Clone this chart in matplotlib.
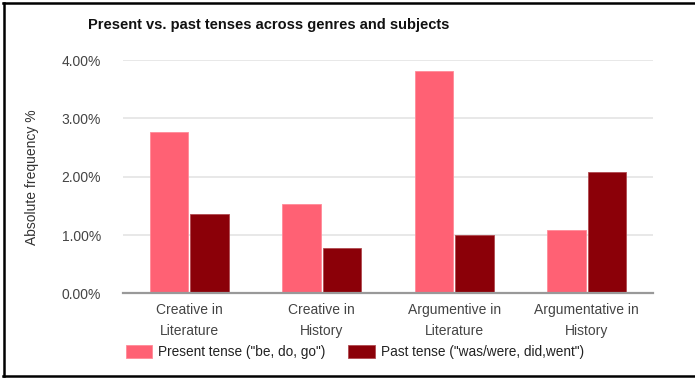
import numpy as np
import matplotlib.pyplot as plt
from matplotlib.lines import Line2D
from matplotlib.ticker import FuncFormatter

plt.rcParams['font.family'] = ['Liberation Sans', 'DejaVu Sans']

categories = ["Creative in\nLiterature", "Creative in\nHistory",
              "Argumentive in\nLiterature", "Argumentative in\nHistory"]
present = [2.76, 1.53, 3.81, 1.08]
past = [1.355, 0.78, 1.00, 2.086]
series_names = ['Present tense ("be, do, go")', 'Past tense ("was/were, did,went")']

fig = plt.figure(figsize=(6.95, 3.78), dpi=100)
ax = fig.add_axes([0.177, 0.224, 0.7626, 0.617])

x = np.arange(len(categories))
w = 0.29
ax.bar(x - 0.152, present, w, color='#ff6174', edgecolor='#ff8a98', linewidth=0.6,
       label=series_names[0], zorder=3)
ax.bar(x + 0.152, past, w, color='#8b0008', edgecolor='#b04a50', linewidth=0.6,
       label=series_names[1], zorder=3)

ax.set_xlim(-0.5, 3.5)
ax.set_ylim(0, 4)
ax.set_yticks([0, 1, 2, 3, 4])
ax.yaxis.set_major_formatter(FuncFormatter(lambda v, p: f"{v:.2f}%"))
ax.set_xticks(x)
ax.set_xticklabels(categories, linespacing=1.6)
ax.tick_params(axis='both', length=0, labelsize=10, labelcolor='#444444')
ax.tick_params(axis='y', pad=16)
ax.tick_params(axis='x', pad=7)
ax.grid(axis='y', color='#e2e2e2', linewidth=1.1, zorder=0)
for s in ['top', 'right', 'left']:
    ax.spines[s].set_visible(False)
ax.spines['bottom'].set_color('#999999')
ax.spines['bottom'].set_linewidth(1.6)
ax.spines['bottom'].set_zorder(4)

ax.set_ylabel('Absolute frequency %', fontsize=10, color='#333333', labelpad=16)

fig.text(0.386, 0.934, 'Present vs. past tenses across genres and subjects',
         ha='center', va='center', fontsize=10.5, fontweight='bold', color='#111111')

fig.legend(loc='center left', bbox_to_anchor=(0.181, 0.069), ncol=2, frameon=False,
           fontsize=9.8, handlelength=1.95, handleheight=1.1, handletextpad=0.45,
           columnspacing=1.65, borderaxespad=0, borderpad=0, labelcolor='#222222')

# outer frame: top, left and bottom edges
for xs, ys in [([0.004, 1.0], [0.991, 0.991]),
               ([0.0055, 0.0055], [0.004, 0.991]),
               ([0.004, 1.0], [0.005, 0.005])]:
    fig.add_artist(Line2D(xs, ys, color='black', linewidth=1.8))

fig.savefig('out.png', dpi=100)
